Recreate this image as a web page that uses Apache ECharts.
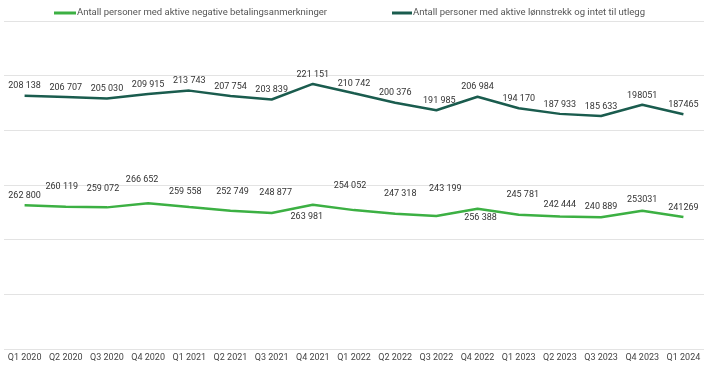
<!DOCTYPE html>
<html>
<head>
<meta charset="utf-8">
<script src="https://cdn.jsdelivr.net/npm/echarts@6/dist/echarts.min.js"></script>
<style>html,body{margin:0;padding:0;background:#fff}#c{width:725px;height:366px}</style>
</head>
<body>
<div id="c"></div>
<script>
var categories = ['Q1 2020','Q2 2020','Q3 2020','Q4 2020','Q1 2021','Q2 2021','Q3 2021','Q4 2021','Q1 2022','Q2 2022','Q3 2022','Q4 2022','Q1 2023','Q2 2023','Q3 2023','Q4 2023','Q1 2024'];
var seriesNames = ['Antall personer med aktive negative betalingsanmerkninger','Antall personer med aktive lønnstrekk og intet til utlegg'];
var negative = [262800,260119,259072,266652,259558,252749,248877,263981,254052,247318,243199,256388,245781,242444,240889,253031,241269];
var wage = [208138,206707,205030,209915,213743,207754,203839,221151,210742,200376,191985,206984,194170,187933,185633,198051,187465];
var noGroupIdx = [15,16];

// label styling (pixel nudges relative to default placement)
var negLabelStyle = [
  {p:'top',o:[0,0]},{p:'top',o:[-4,-11]},{p:'top',o:[-4,-9]},{p:'top',o:[-6,-14]},
  {p:'top',o:[-4,-6]},{p:'top',o:[2,-10]},{p:'top',o:[4,-11]},{p:'bottom',o:[-6,3]},
  {p:'top',o:[-4,-15]},{p:'top',o:[5,-11]},{p:'top',o:[9,-18]},{p:'bottom',o:[3,-1]},
  {p:'top',o:[4,-10]},{p:'top',o:[0,-2]},{p:'top',o:[0,-1]},{p:'top',o:[0,-1]},{p:'top',o:[0,0]}
];
var wageLabelStyle = wage.map(function(v,i){ return {p:'top',o:[i===10?3:0,0]}; });

function fmt(v, i){
  var s = String(v);
  if (noGroupIdx.indexOf(i) >= 0) return s;
  return s.replace(/\B(?=(\d{3})+(?!\d))/g, ' ');
}
function build(values, styles){
  return values.map(function(v,i){
    return {value:v, label:{show:true, position:styles[i].p, formatter:fmt(v,i)}};
  });
}
function layoutFor(styles){
  return function(params){
    var s = styles[params.dataIndex];
    return {dx:s.o[0], dy:s.o[1], hideOverlap:false};
  };
}

var FONT = 'Roboto';
var chart = echarts.init(document.getElementById('c'), null, {renderer:'canvas'});
chart.setOption({
  animation:false,
  textStyle:{fontFamily:FONT},
  legend:[
    {data:[seriesNames[0]], left:54, top:8, padding:0, itemWidth:22, itemHeight:3, icon:'rect',
     textStyle:{fontFamily:FONT, fontSize:9.5, color:'#555', padding:[0,0,0,-4]}},
    {data:[seriesNames[1]], left:392, top:8, padding:0, itemWidth:20, itemHeight:3, icon:'rect',
     textStyle:{fontFamily:FONT, fontSize:9.5, color:'#555', padding:[0,0,0,-4]}}
  ],
  grid:{left:4, right:21, top:21, bottom:17, containLabel:false},
  xAxis:{
    type:'category', data:categories, boundaryGap:true,
    axisLine:{show:false}, axisTick:{show:false},
    axisLabel:{fontFamily:FONT, fontSize:9, color:'#444', margin:4, interval:0}
  },
  yAxis:[
    {type:'value', min:0, max:600000, interval:100000, show:true,
     axisLabel:{show:false}, axisLine:{show:false}, axisTick:{show:false},
     splitLine:{lineStyle:{color:'#e3e3e3', width:1}}},
    {type:'value', min:-73000, max:291000, show:true,
     axisLabel:{show:false}, axisLine:{show:false}, axisTick:{show:false},
     splitLine:{show:false}}
  ],
  series:[
    {name:seriesNames[0], type:'line', yAxisIndex:0, data:build(negative, negLabelStyle),
     symbol:'circle', symbolSize:0, showSymbol:true,
     lineStyle:{color:'#3cb043', width:2.5}, itemStyle:{color:'#3cb043'},
     label:{show:true, distance:5, fontFamily:FONT, fontSize:9, color:'#333'},
     labelLayout:layoutFor(negLabelStyle)},
    {name:seriesNames[1], type:'line', yAxisIndex:1, data:build(wage, wageLabelStyle),
     symbol:'circle', symbolSize:0, showSymbol:true,
     lineStyle:{color:'#1a5c4e', width:2.5}, itemStyle:{color:'#1a5c4e'},
     label:{show:true, distance:5, fontFamily:FONT, fontSize:9, color:'#333'},
     labelLayout:layoutFor(wageLabelStyle)}
  ]
});
</script>
</body>
</html>
